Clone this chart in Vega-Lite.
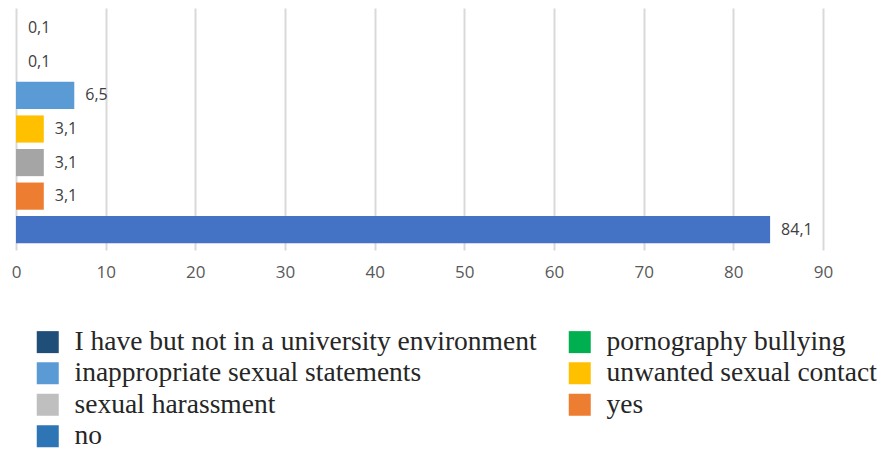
{
  "$schema": "https://vega.github.io/schema/vega-lite/v6.json",
  "autosize": "none",
  "width": 807,
  "height": 242,
  "padding": {"left": 16, "top": 8, "right": 57, "bottom": 199},
  "background": "white",
  "config": {
    "view": {"stroke": null},
    "locale": {"number": {"decimal": ",", "thousands": " ", "grouping": [3], "currency": ["", ""]}}
  },
  "data": {
    "values": [
      {"answer": "I have but not in a university environment", "value": 0.1},
      {"answer": "pornography bullying", "value": 0.1},
      {"answer": "inappropriate sexual statements", "value": 6.5},
      {"answer": "unwanted sexual contact", "value": 3.1},
      {"answer": "sexual harassment", "value": 3.1},
      {"answer": "yes", "value": 3.1},
      {"answer": "no", "value": 84.1}
    ]
  },
  "encoding": {
    "y": {
      "field": "answer",
      "type": "nominal",
      "sort": ["I have but not in a university environment", "pornography bullying", "inappropriate sexual statements", "unwanted sexual contact", "sexual harassment", "yes", "no"],
      "scale": {"paddingInner": 0.19, "paddingOuter": 0.2},
      "axis": null
    },
    "x": {
      "field": "value",
      "type": "quantitative",
      "scale": {"domain": [0, 90], "nice": false},
      "axis": {
        "values": [0, 10, 20, 30, 40, 50, 60, 70, 80, 90],
        "format": "d",
        "title": null,
        "domain": false,
        "ticks": false,
        "labelFlush": false,
        "labelPadding": 14,
        "labelFont": "Open Sans",
        "labelFontSize": 17,
        "labelColor": "#595959",
        "gridColor": "#d9d9d9",
        "gridWidth": 2
      }
    }
  },
  "layer": [
    {
      "mark": {"type": "bar"},
      "encoding": {
        "color": {
          "field": "answer",
          "type": "nominal",
          "scale": {
            "domain": ["I have but not in a university environment", "pornography bullying", "inappropriate sexual statements", "unwanted sexual contact", "sexual harassment", "yes", "no"],
            "range": ["#264478", "#00b050", "#5b9bd5", "#ffc000", "#a5a5a5", "#ed7d31", "#4472c4"]
          },
          "legend": null
        },
        "opacity": {"condition": {"test": "datum.value < 1", "value": 0}, "value": 1}
      }
    },
    {
      "mark": {"type": "text", "align": "left", "baseline": "middle", "dx": 11, "font": "Open Sans", "fontSize": 16, "color": "#404040"},
      "encoding": {
        "text": {"field": "value", "type": "quantitative", "format": ".1f"}
      }
    },
    {
      "mark": {"type": "bar", "opacity": 0},
      "encoding": {
        "color": {
          "field": "answer",
          "type": "nominal",
          "scale": {
            "domain": ["I have but not in a university environment", "inappropriate sexual statements", "sexual harassment", "no", "pornography bullying", "unwanted sexual contact", "yes"],
            "range": ["#1f4e79", "#5b9bd5", "#bfbfbf", "#2e75b6", "#00b050", "#ffc000", "#ed7d31"]
          },
          "legend": {
            "title": null,
            "orient": "none",
            "legendX": 18,
            "legendY": 320,
            "direction": "vertical",
            "columns": 2,
            "symbolType": "square",
            "symbolSize": 484,
            "symbolOpacity": 1,
            "symbolStrokeWidth": 0,
            "labelFont": "Liberation Serif",
            "labelFontSize": 27.5,
            "labelColor": "#262626",
            "labelOffset": 13,
            "labelLimit": 700,
            "rowPadding": 2.5,
            "columnPadding": 29
          }
        }
      }
    }
  ],
  "resolve": {"scale": {"color": "independent"}}
}
